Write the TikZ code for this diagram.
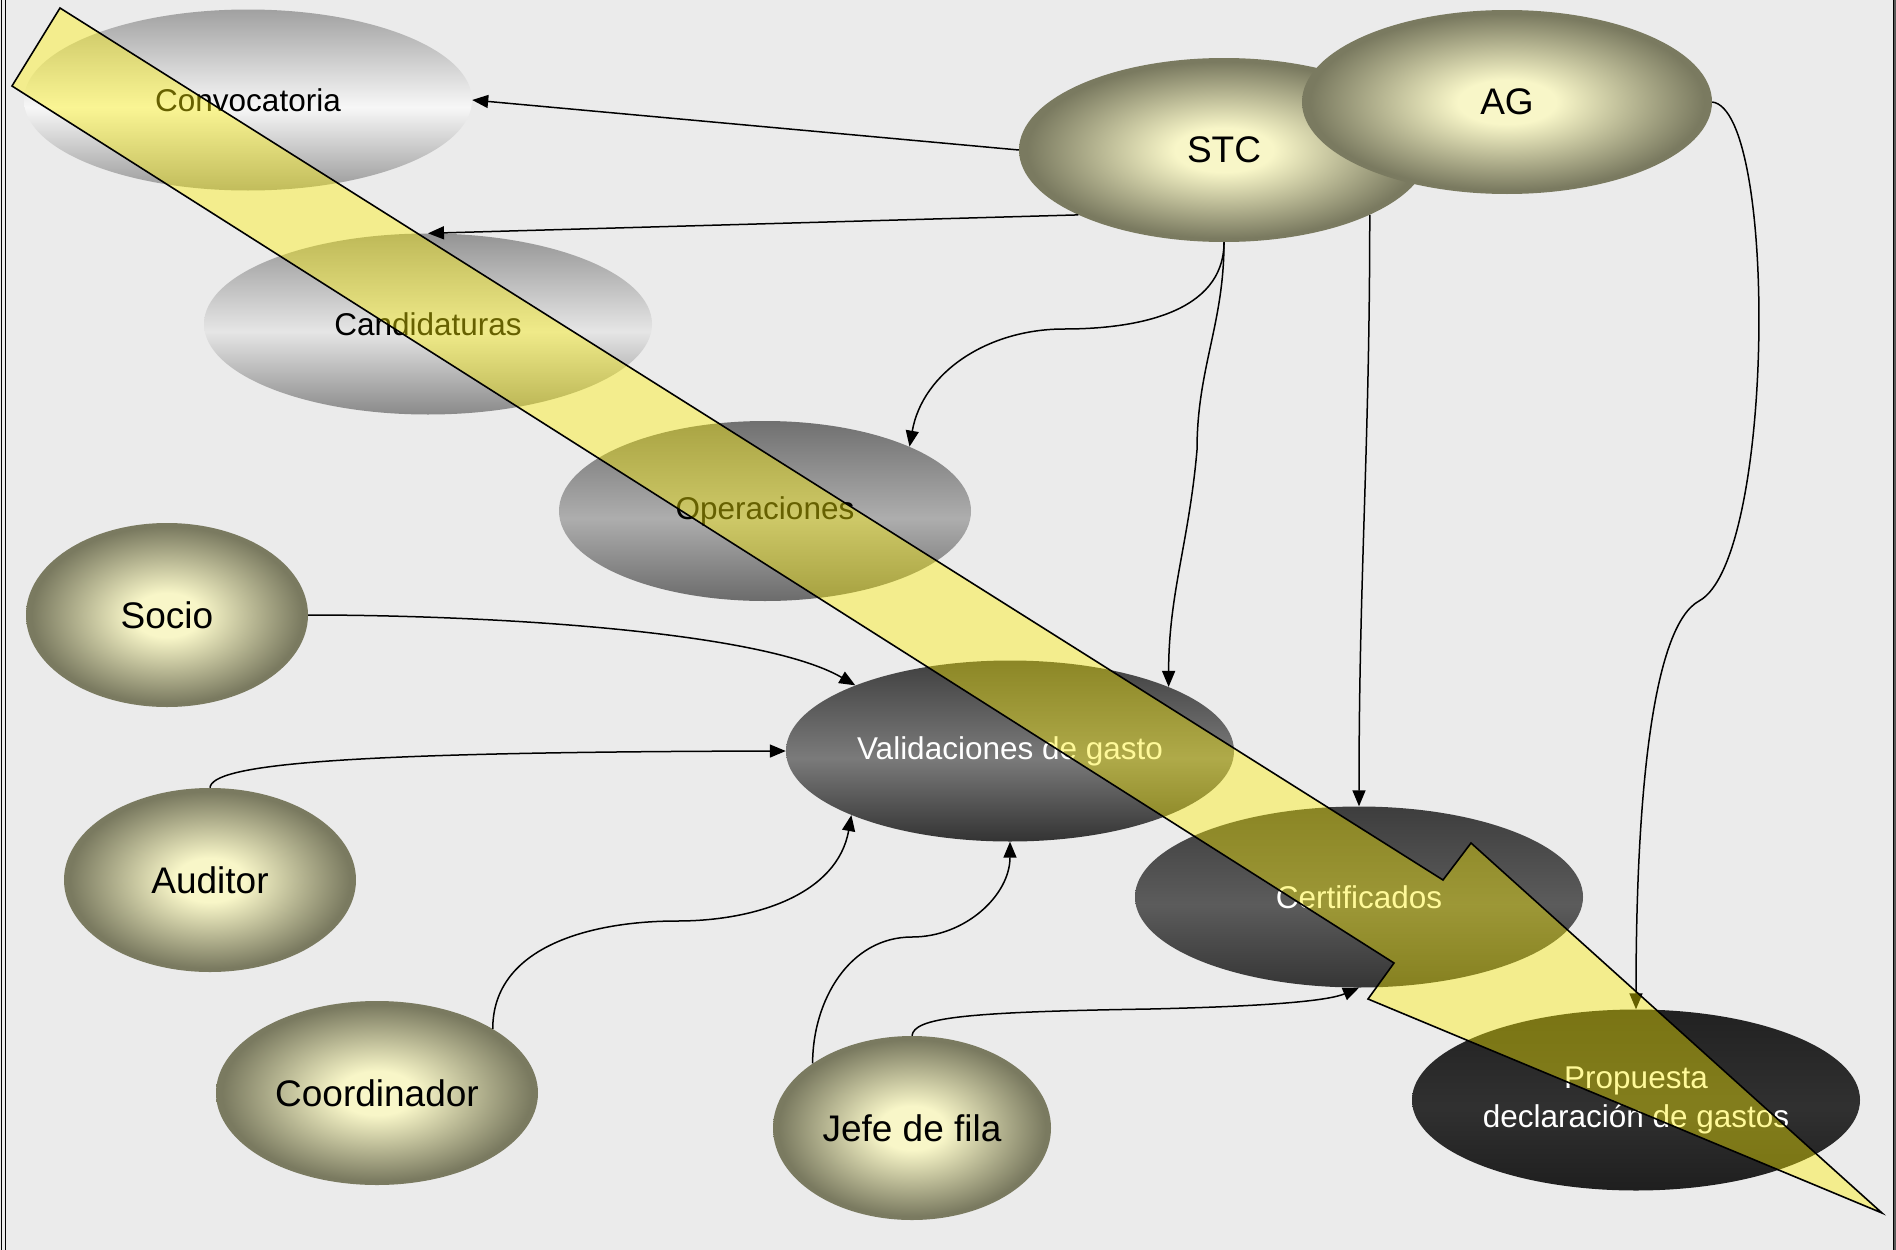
\documentclass[tikz,border=0pt]{standalone}
\usepackage{fontspec}
\setmainfont{Liberation Sans}
\usetikzlibrary{shapes.geometric,arrows.meta}
\definecolor{bg}{HTML}{EBEBEB}
\definecolor{actin}{HTML}{F8F6C8}
\definecolor{actout}{HTML}{7A7A60}
\colorlet{ptop}{gray}\colorlet{pmid}{white}\colorlet{pbot}{gray}
\pgfdeclareradialshading{actorshade}{\pgfpoint{0bp}{0bp}}{color(0bp)=(actin); color(6bp)=(actin); color(24bp)=(actout); color(50bp)=(actout)}
\pgfdeclareverticalshading[ptop,pmid,pbot]{procshade}{100bp}{color(0bp)=(pbot); color(25bp)=(pbot); color(48bp)=(pmid); color(75bp)=(ptop); color(100bp)=(ptop)}
\begin{document}
\begin{tikzpicture}[x=1pt,y=1pt,
  actor/.style={ellipse, shading=actorshade, minimum width=#1, minimum height=184pt, inner sep=0pt, text=black, font=\fontsize{37}{44}\selectfont},
  proc/.style={ellipse, minimum width=448pt, minimum height=181pt, inner sep=0pt, align=center, font=\fontsize{31.5}{39}\selectfont},
  pshade/.style n args={3}{/utils/exec={\colorlet{ptop}{#1}\colorlet{pmid}{#2}\colorlet{pbot}{#3}}, shading=procshade},
  conn/.style={line width=1.5pt, -{Triangle[length=16pt,width=13pt]}},
  band/.style={line width=1.6pt, draw=black, fill=yellow, fill opacity=0.4, line join=miter}
]
\useasboundingbox (0,0) rectangle (1896,-1250);
\fill[bg] (0,0) rectangle (1896,-1250);
\draw[line width=1.3pt] (1.7,0) -- (1.7,-1250);
\draw[line width=1.3pt] (5.2,0) -- (5.2,-1250);
\fill[black!65] (1893,0) rectangle (1896,-1250);
\draw[line width=1.3pt] (1893.3,0) -- (1893.3,-1250);

% process ellipses
\node[proc, pshade={black!37}{black!3}{black!40}] (conv) at (248,-100) {Convocatoria};
\node[proc, pshade={black!42}{black!10}{black!46}] (cand) at (428,-324) {Candidaturas};
\node[proc, minimum width=412pt, minimum height=180pt, pshade={black!56}{black!32}{black!58}] (oper) at (765,-511) {Operaciones};
\node[proc, text=white, pshade={black!75}{black!52}{black!80}] (val) at (1010,-751) {Validaciones de gasto};
\node[proc, text=white, pshade={black!76}{black!64}{black!79}] (cert) at (1359,-897) {Certificados};
\node[proc, text=white, pshade={black!87}{black!81}{black!88}] (prop) at (1636,-1100) {Propuesta\\declaración de gastos};

% actor ellipses
\node[actor=410pt] (stc) at (1224,-150) {STC};
\node[actor=410pt] (ag) at (1507,-102) {AG};
\node[actor=282pt] (socio) at (167,-615) {Socio};
\node[actor=292pt] (aud) at (210,-880) {Auditor};
\node[actor=322pt] (coord) at (377,-1093) {Coordinador};
\node[actor=278pt] (jefe) at (912,-1128) {Jefe de fila};

% connectors
\draw[conn] (stc.west) -- (conv.east);
\draw[conn] (stc.204) -- (cand.north);
\draw[conn] (stc.south) to[out=-90,in=0] (1064,-329) to[out=180,in=80] (oper.24);
\draw[conn] (stc.south) to[out=-90,in=90] (1197,-450) to[out=-95,in=90] (val.22.5);
\draw[conn] (stc.-24.3) to[out=-90,in=90] (cert.north);
\draw[conn] (ag.east) .. controls (1778,-110) and (1775,-560) .. (1699,-601) .. controls (1655,-625) and (1636,-780) .. (prop.north);
\draw[conn] (socio.east) .. controls (480,-615) and (760,-630) .. (val.157.5);
\draw[conn] (aud.north) .. controls (212,-765) and (330,-752) .. (val.west);
\draw[conn] (coord.29) to[out=90,in=180] (677,-921) to[out=0,in=-100] (val.202.5);
\draw[conn] (jefe.147) to[out=90,in=180] (912,-937) to[out=0,in=-90] (val.south);
\draw[conn] (jefe.north) .. controls (914,-1018) and (960,-1012) .. (1150,-1009) .. controls (1280,-1006) and (1330,-1000) .. (cert.south);

% big translucent block arrow
\draw[band] (60,-8) -- (1443,-880) -- (1471,-843) -- (1882,-1213) -- (1368,-999) -- (1394,-963) -- (12,-86) -- cycle;
\end{tikzpicture}
\end{document}
